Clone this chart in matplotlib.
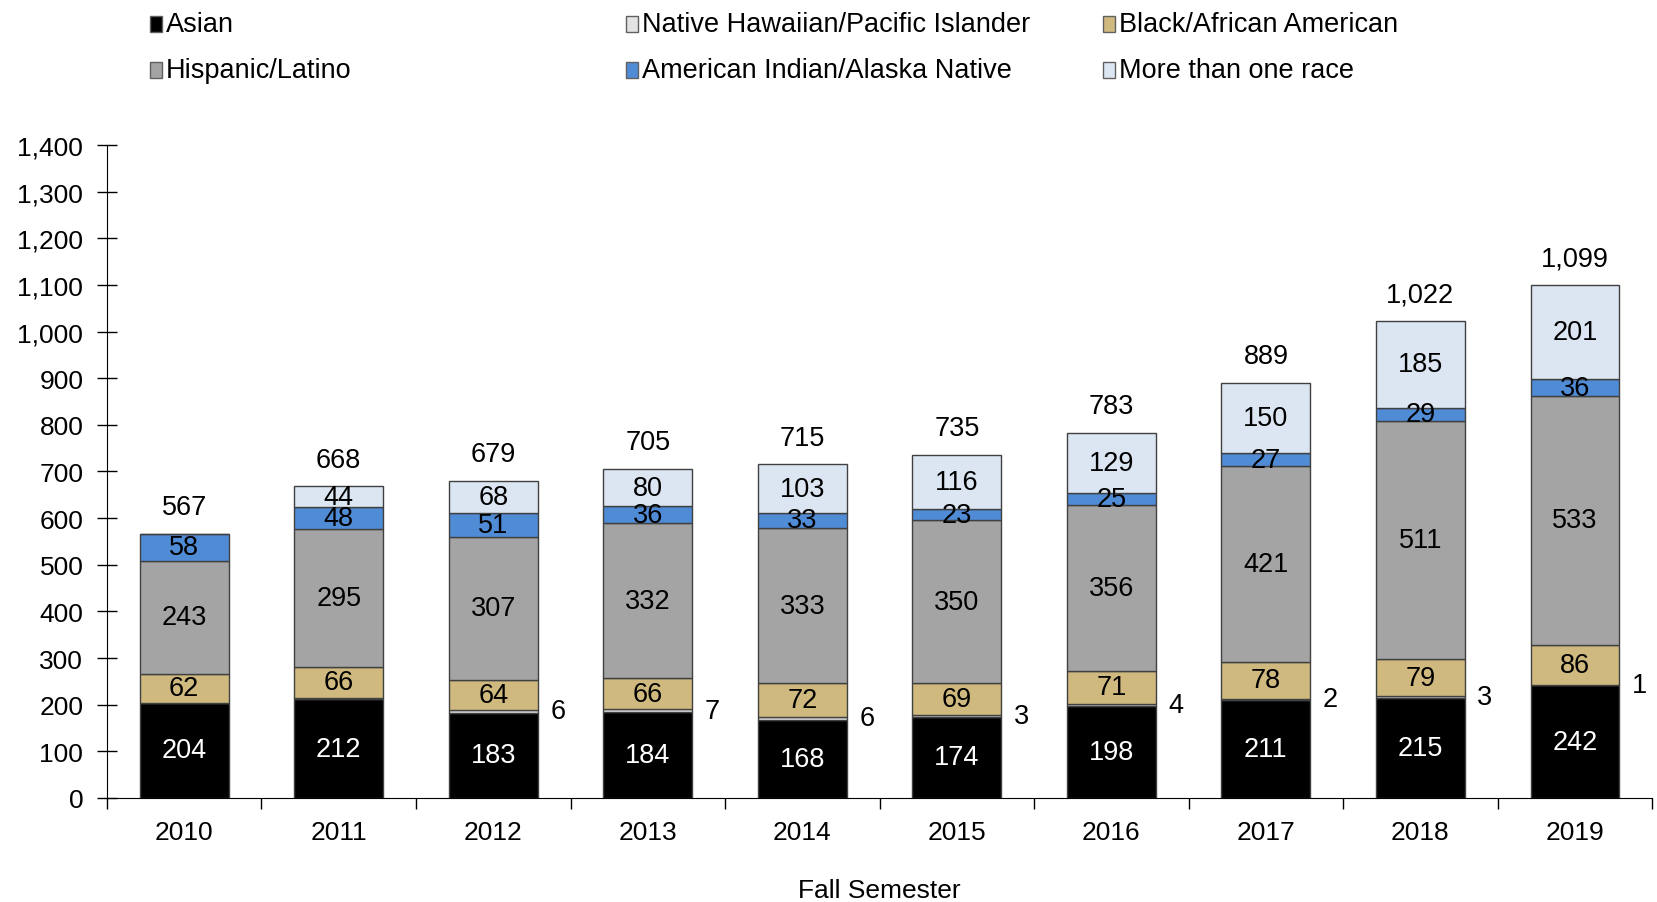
import numpy as np
import matplotlib.pyplot as plt
from matplotlib.patches import Rectangle
from matplotlib.ticker import FuncFormatter, MultipleLocator

plt.rcParams['font.family'] = ['Liberation Sans', 'DejaVu Sans']

years = ["2010", "2011", "2012", "2013", "2014", "2015", "2016", "2017", "2018", "2019"]
asian = [204, 212, 183, 184, 168, 174, 198, 211, 215, 242]
nhpi = [0, 3, 6, 7, 6, 3, 4, 2, 3, 1]
black = [62, 66, 64, 66, 72, 69, 71, 78, 79, 86]
hispanic = [243, 295, 307, 332, 333, 350, 356, 421, 511, 533]
amind = [58, 48, 51, 36, 33, 23, 25, 27, 29, 36]
multi = [0, 44, 68, 80, 103, 116, 129, 150, 185, 201]

names = ["Asian", "Native Hawaiian/Pacific Islander", "Black/African American",
         "Hispanic/Latino", "American Indian/Alaska Native", "More than one race"]
series = [asian, nhpi, black, hispanic, amind, multi]
colors = ["#000000", "#e3e3e3", "#cfb97e", "#a3a4a3", "#508bd6", "#dce6f2"]
text_colors = ["white", "black", "black", "black", "black", "black"]

fig = plt.figure(figsize=(16.58, 9.03), dpi=100)
ax = fig.add_axes([0.0645, 0.1152, 0.932, 0.7231])

x = np.arange(len(years))
width = 0.575
bottom = np.zeros(len(years))
for name, vals, col, tc in zip(names, series, colors, text_colors):
    vals = np.array(vals, dtype=float)
    ax.bar(x, vals, width, bottom=bottom, color=col, edgecolor="#404040", linewidth=1.0)
    for i, v in enumerate(vals):
        if v == 0:
            continue
        if name == names[1]:
            if i < 2:
                continue
            ax.text(x[i] + width / 2 + 0.13, bottom[i] + v / 2, f"{int(v)}",
                    ha="center", va="center", fontsize=19.5, color="black")
        else:
            ax.text(x[i], bottom[i] + v / 2, f"{int(v)}", ha="center", va="center",
                    fontsize=19.5, color=tc)
    bottom += vals

for i, tot in enumerate(bottom):
    ax.annotate(f"{int(tot):,}", (x[i], tot), xytext=(0, 10), textcoords="offset points",
                ha="center", va="bottom", fontsize=19.5)

ax.set_xlim(-0.5, len(years) - 0.5)
ax.set_ylim(0, 1400)
ax.yaxis.set_major_locator(MultipleLocator(100))
ax.yaxis.set_major_formatter(FuncFormatter(lambda v, p: f"{int(v):,}"))
ax.set_xticks(x)
ax.set_xticklabels(years)
ax.set_xticks(np.arange(-0.5, len(years)), minor=True)
ax.tick_params(axis="x", which="major", length=0, pad=16, labelsize=19)
ax.tick_params(axis="x", which="minor", length=8, direction="out", width=1)
ax.tick_params(axis="y", which="major", length=14, direction="inout", width=1, pad=10,
               labelsize=19)
for s in ["top", "right"]:
    ax.spines[s].set_visible(False)
ax.set_xlabel("Fall Semester", fontsize=19, labelpad=24)

# legend laid out in a 3x2 grid
col_x = [0.0905, 0.3776, 0.6652]
row_y = [0.9725, 0.9215]
for i, (name, col) in enumerate(zip(names, colors)):
    cx = col_x[i % 3]
    cy = row_y[i // 3]
    fig.add_artist(Rectangle((cx, cy - 0.0085), 0.0075, 0.017, transform=fig.transFigure,
                             facecolor=col, edgecolor="#606060", linewidth=1))
    fig.text(cx + 0.0095, cy, name, fontsize=19.5, va="center", ha="left")

fig.savefig("out.png", dpi=100)
